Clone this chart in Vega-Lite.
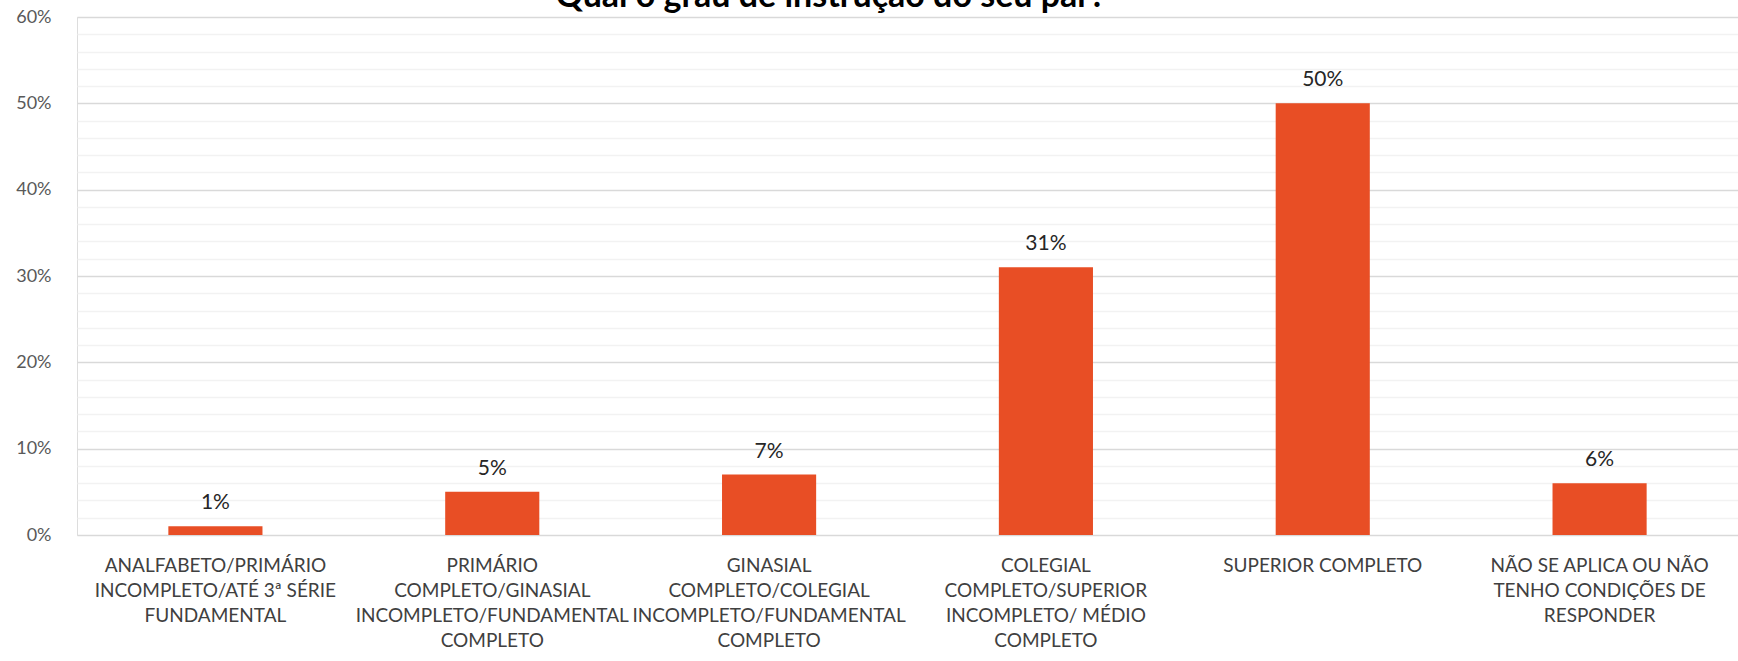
{
  "$schema": "https://vega.github.io/schema/vega-lite/v6.json",
  "autosize": "none",
  "width": 1661,
  "height": 518,
  "padding": {"left": 77, "top": 17, "right": 0, "bottom": 126},
  "background": "white",
  "title": {
    "text": "Qual o grau de instrução do seu par?",
    "font": "Lato",
    "fontSize": 34,
    "fontWeight": "bold",
    "color": "#000000",
    "baseline": "alphabetic",
    "frame": "group",
    "anchor": "middle",
    "offset": -33,
    "dx": -77
  },
  "data": {
    "values": [
      {"cat": "ANALFABETO/PRIMÁRIO\nINCOMPLETO/ATÉ 3ª SÉRIE\nFUNDAMENTAL", "order": 1, "pct": 0.01},
      {"cat": "PRIMÁRIO\nCOMPLETO/GINASIAL\nINCOMPLETO/FUNDAMENTAL\nCOMPLETO", "order": 2, "pct": 0.05},
      {"cat": "GINASIAL\nCOMPLETO/COLEGIAL\nINCOMPLETO/FUNDAMENTAL\nCOMPLETO", "order": 3, "pct": 0.07},
      {"cat": "COLEGIAL\nCOMPLETO/SUPERIOR\nINCOMPLETO/ MÉDIO\nCOMPLETO", "order": 4, "pct": 0.31},
      {"cat": "SUPERIOR COMPLETO", "order": 5, "pct": 0.50},
      {"cat": "NÃO SE APLICA OU NÃO\nTENHO CONDIÇÕES DE\nRESPONDER", "order": 6, "pct": 0.06}
    ]
  },
  "encoding": {
    "x": {
      "field": "cat",
      "type": "nominal",
      "sort": {"field": "order"},
      "scale": {"paddingInner": 0.66, "paddingOuter": 0.33},
      "axis": {
        "title": null,
        "domain": false,
        "ticks": false,
        "labelAngle": 0,
        "labelFont": "Lato",
        "labelFontSize": 19,
        "labelColor": "#404040",
        "labelPadding": 21,
        "labelBaseline": "top",
        "labelLineHeight": 25,
        "labelOverlap": false,
        "labelLimit": 0,
        "labelExpr": "split(datum.label, '\\n')"
      }
    },
    "y": {
      "field": "pct",
      "type": "quantitative",
      "scale": {"domain": [0, 0.6], "nice": false},
      "axis": {
        "title": null,
        "domain": false,
        "ticks": false,
        "values": [0, 0.02, 0.04, 0.06, 0.08, 0.1, 0.12, 0.14, 0.16, 0.18, 0.2, 0.22, 0.24, 0.26, 0.28, 0.3, 0.32, 0.34, 0.36, 0.38, 0.4, 0.42, 0.44, 0.46, 0.48, 0.5, 0.52, 0.54, 0.56, 0.58, 0.6],
        "labelExpr": "abs(datum.value*10 - round(datum.value*10)) < 0.001 ? format(datum.value, '.0%') : ''",
        "labelFont": "Lato",
        "labelFontSize": 18,
        "labelColor": "#595959",
        "labelPadding": 26,
        "gridColor": {"condition": {"test": "abs(datum.value*10 - round(datum.value*10)) < 0.001", "value": "#D9D9D9"}, "value": "#F2F2F2"},
        "gridWidth": 1.3
      }
    }
  },
  "layer": [
    {"mark": {"type": "bar", "color": "#E84E25"}},
    {
      "mark": {"type": "text", "font": "Lato", "fontSize": 21, "color": "#262626", "baseline": "alphabetic", "dy": -17},
      "encoding": {"text": {"field": "pct", "type": "quantitative", "format": ".0%"}}
    }
  ]
}
